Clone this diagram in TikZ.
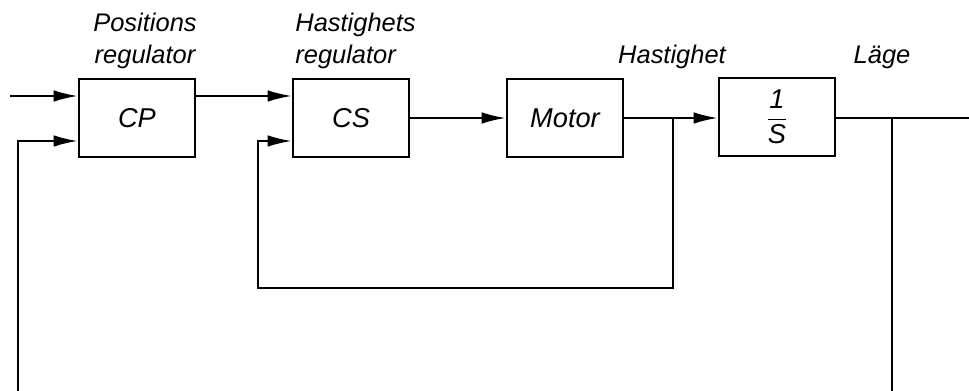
\documentclass[tikz,border=0pt]{standalone}
\usepackage{fontspec}
\setmainfont{Liberation Sans}
\usetikzlibrary{arrows.meta,calc}

\tikzset{
    blk/.style={draw, line width=1.5pt, minimum width=2.32cm, minimum height=1.56cm,
                font=\fontsize{15.5}{17}\selectfont\itshape},
    lbl/.style={font=\fontsize{14.5}{18}\selectfont\itshape, inner sep=0pt},
    wire/.style={line width=1.1pt},
    arr/.style={wire, -{Latex[length=4.8mm,width=2.3mm]}}
}

\begin{document}
\begin{tikzpicture}[x=0.02cm,y=0.02cm]
            \clip (0,0) rectangle (969,391);
            % Blocks
            \node[blk] (cp) at (137,273) {CP};
            \node[blk] (cs) at (351,273) {CS};
            \node[blk] (motor) at (565,273) {Motor};
            \node[blk] (integ) at (777,274) {$\displaystyle\frac{\textit{1}}{\textit{S}}$};

            % Labels
            \node[lbl, align=center] (lcp) at (145,350) {Positions\\regulator};
            \node[lbl, align=left, anchor=west] (lcs) at (295,350) {Hastighets\\regulator};
            \node[lbl] (lvel) at (672,334) {Hastighet};
            \node[lbl] (lpos) at (882,334) {Läge};

            % Points
            \coordinate (in) at (10,295);
            \coordinate (out) at (969,273);
            \coordinate (bv) at (673,273);
            \coordinate (bp) at (892,273);
            \coordinate (fb1) at (258,103);
            \coordinate (fb2) at (18,-20);

            % Connections
            \draw[arr] (in) -- ($(cp.west)+(0,22)$);
            \draw[arr] ($(cp.east)+(0,22)$) -- ($(cs.west)+(0,22)$);
            \draw[arr] (cs.east) -- (motor.west);
            \draw[arr] (motor.east) -- (integ.west |- motor.east);
            \draw[wire] (integ.east |- out) -- (out);
            \draw[arr] (bv) |- (fb1) |- ($(cs.west)+(0,-23)$);
            \draw[arr] (bp) |- (fb2) |- ($(cp.west)+(0,-23)$);
        \end{tikzpicture}
\end{document}
